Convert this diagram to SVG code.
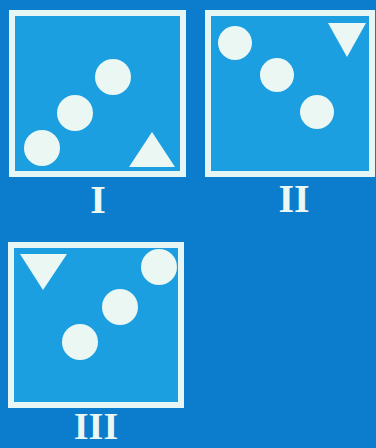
<svg xmlns="http://www.w3.org/2000/svg" width="376" height="448" viewBox="0 0 376 448">
<style>
.frame{fill:#1b9fe0;stroke:#e6f6f4;stroke-width:6}
.shape{fill:#eaf7f2}
.lbl{font-family:"Liberation Serif",serif;font-weight:bold;font-size:40px;fill:#eaf7f2;text-anchor:middle}
</style>
<rect width="376" height="448" fill="#0b7dcc"/>
<g id="panel-I">
<rect class="frame" x="12" y="13" width="171" height="161"/>
<circle class="shape" cx="113" cy="77" r="18"/>
<circle class="shape" cx="75" cy="113" r="18"/>
<circle class="shape" cx="42" cy="148" r="18"/>
<polygon class="shape" points="152,132 129,167 175,167"/>
<text class="lbl" x="98" y="213">I</text>
</g>
<g id="panel-II">
<rect class="frame" x="208" y="13" width="164" height="161"/>
<circle class="shape" cx="235" cy="43" r="17"/>
<circle class="shape" cx="277" cy="75" r="17"/>
<circle class="shape" cx="317" cy="112" r="17"/>
<polygon class="shape" points="328,23 366,23 347,57"/>
<text class="lbl" x="294" y="212">II</text>
</g>
<g id="panel-III">
<rect class="frame" x="11" y="245" width="170" height="160"/>
<polygon class="shape" points="20,254 67,254 43,290"/>
<circle class="shape" cx="159" cy="267" r="18"/>
<circle class="shape" cx="120" cy="307" r="18"/>
<circle class="shape" cx="80" cy="342" r="18"/>
<text class="lbl" x="96" y="439" style="font-size:38px">III</text>
</g>
</svg>
